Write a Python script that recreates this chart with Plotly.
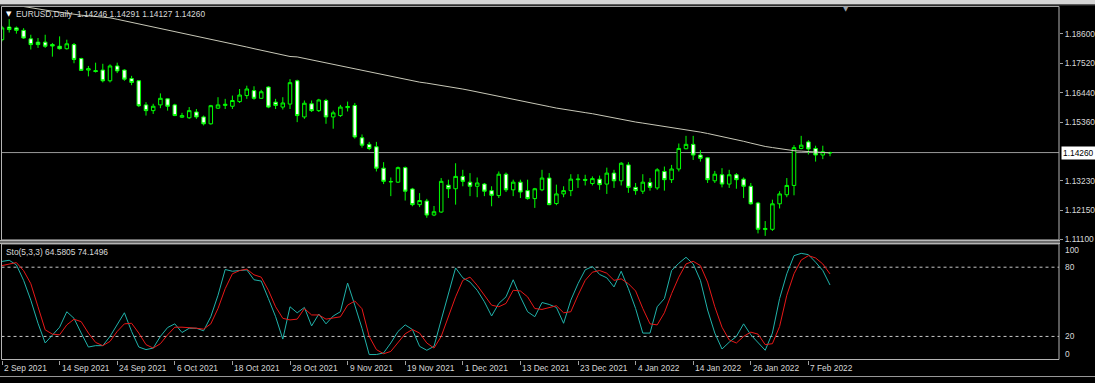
import plotly.graph_objects as go

W, H = 1095, 383
def X(px): return px / W
def Y(py): return 1 - py / H

# ---------------- categories (trading days) ----------------
month_days = [
    ("2021-09", [2,3,6,7,8,9,10,13,14,15,16,17,20,21,22,23,24,27,28,29,30]),
    ("2021-10", [1,4,5,6,7,8,11,12,13,14,15,18,19,20,21,22,25,26,27,28,29]),
    ("2021-11", [1,2,3,4,5,8,9,10,11,12,15,16,17,18,19,22,23,24,25,26,29,30]),
    ("2021-12", [1,2,3,6,7,8,9,10,13,14,15,16,17,20,21,22,23,24,27,28,29,30,31]),
    ("2022-01", [3,4,5,6,7,10,11,12,13,14,17,18,19,20,21,24,25,26,27,28,31]),
    ("2022-02", [1,2,3,4,7,8,9,10]),
]
dates = [f"{m}-{d:02d}" for m, days in month_days for d in days]

# ---------------- OHLC ----------------
open_ = [1.1838,1.1884,1.1881,1.1872,1.1841,1.1829,1.1829,1.1820,1.1814,1.1805,
         1.1820,1.1769,1.1727,1.1725,1.1727,1.1688,1.1742,1.1727,1.1696,1.1688,
         1.1600,1.1579,1.1600,1.1622,1.1600,1.1555,1.1553,1.1574,1.1556,1.1531,
         1.1588,1.1598,1.1595,1.1612,1.1634,1.1652,1.1624,1.1665,1.1610,1.1592,
         1.1603,1.1688,1.1556,1.1604,1.1579,1.1616,1.1556,1.1561,1.1590,1.1598,
         1.1480,1.1456,1.1447,1.1369,1.1319,1.1318,1.1371,1.1293,1.1236,1.1249,
         1.1198,1.1209,1.1307,1.1294,1.1339,1.1318,1.1303,1.1311,1.1287,1.1269,
         1.1347,1.1290,1.1318,1.1287,1.1258,1.1290,1.1333,1.1240,1.1275,1.1287,
         1.1327,1.1328,1.1313,1.1329,1.1311,1.1351,1.1323,1.1381,1.1299,1.1285,
         1.1317,1.1297,1.1357,1.1327,1.1366,1.1440,1.1456,1.1417,1.1407,1.1323,
         1.1345,1.1311,1.1345,1.1329,1.1303,1.1242,1.1145,1.1146,1.1239,1.1272,
         1.1306,1.1441,1.1465,1.1441,1.1417,1.14246]
high = [1.1888,1.1913,1.1886,1.1880,1.1856,1.1844,1.1856,1.1826,1.1850,1.1838,
        1.1826,1.1772,1.1742,1.1754,1.1750,1.1748,1.1754,1.1730,1.1706,1.1690,
        1.1610,1.1604,1.1642,1.1624,1.1604,1.1571,1.1592,1.1585,1.1561,1.1600,
        1.1628,1.1622,1.1634,1.1658,1.1670,1.1668,1.1655,1.1668,1.1622,1.1628,
        1.1694,1.1692,1.1616,1.1616,1.1622,1.1622,1.1579,1.1600,1.1612,1.1607,
        1.1492,1.1465,1.1465,1.1391,1.1335,1.1375,1.1375,1.1297,1.1278,1.1257,
        1.1231,1.1333,1.1327,1.1387,1.1363,1.1351,1.1335,1.1315,1.1303,1.1357,
        1.1353,1.1327,1.1327,1.1327,1.1297,1.1363,1.1351,1.1309,1.1303,1.1347,
        1.1347,1.1345,1.1339,1.1342,1.1371,1.1363,1.1391,1.1391,1.1315,1.1347,
        1.1333,1.1369,1.1375,1.1381,1.1459,1.1487,1.1487,1.1435,1.1410,1.1359,
        1.1369,1.1363,1.1351,1.1335,1.1315,1.1246,1.1176,1.1254,1.1285,1.1333,
        1.1453,1.1487,1.1471,1.1451,1.1451,1.14291]
low = [1.1832,1.1864,1.1860,1.1841,1.1802,1.1808,1.1808,1.1776,1.1802,1.1802,
       1.1752,1.1724,1.1704,1.1718,1.1682,1.1682,1.1716,1.1688,1.1672,1.1592,
       1.1561,1.1567,1.1588,1.1579,1.1559,1.1552,1.1549,1.1549,1.1525,1.1528,
       1.1585,1.1585,1.1585,1.1607,1.1622,1.1619,1.1622,1.1588,1.1585,1.1583,
       1.1585,1.1537,1.1549,1.1574,1.1574,1.1531,1.1513,1.1556,1.1576,1.1477,
       1.1444,1.1435,1.1357,1.1311,1.1267,1.1315,1.1251,1.1230,1.1227,1.1188,
       1.1194,1.1206,1.1260,1.1236,1.1303,1.1267,1.1263,1.1267,1.1230,1.1260,
       1.1282,1.1267,1.1260,1.1254,1.1224,1.1285,1.1234,1.1234,1.1263,1.1267,
       1.1297,1.1306,1.1306,1.1290,1.1275,1.1297,1.1306,1.1279,1.1272,1.1275,
       1.1287,1.1290,1.1287,1.1315,1.1357,1.1438,1.1399,1.1393,1.1315,1.1315,
       1.1299,1.1297,1.1294,1.1260,1.1236,1.1131,1.1122,1.1140,1.1222,1.1263,
       1.1270,1.1438,1.1419,1.1393,1.1402,1.14127]
close = [1.1881,1.1875,1.1872,1.1844,1.1820,1.1820,1.1814,1.1815,1.1805,1.1823,
         1.1766,1.1726,1.1732,1.1722,1.1688,1.1742,1.1724,1.1694,1.1682,1.1597,
         1.1579,1.1595,1.1624,1.1595,1.1561,1.1561,1.1579,1.1556,1.1531,1.1597,
         1.1600,1.1602,1.1616,1.1636,1.1658,1.1624,1.1648,1.1592,1.1598,1.1607,
         1.1681,1.1561,1.1606,1.1579,1.1618,1.1556,1.1571,1.1592,1.1594,1.1483,
         1.1453,1.1441,1.1369,1.1321,1.1320,1.1371,1.1285,1.1236,1.1251,1.1198,
         1.1210,1.1321,1.1294,1.1339,1.1321,1.1303,1.1315,1.1285,1.1270,1.1347,
         1.1290,1.1318,1.1282,1.1258,1.1294,1.1333,1.1236,1.1275,1.1287,1.1329,
         1.1329,1.1325,1.1331,1.1309,1.1351,1.1323,1.1387,1.1299,1.1287,1.1318,
         1.1299,1.1363,1.1327,1.1366,1.1441,1.1456,1.1417,1.1405,1.1327,1.1347,
         1.1311,1.1345,1.1327,1.1303,1.1239,1.1146,1.1149,1.1239,1.1275,1.1306,
         1.1444,1.1453,1.1439,1.1417,1.1429,1.14260]

# moving average line
ma = [1.19720,1.19673,1.19626,1.19579,1.19535,1.19496,1.19460,1.19420,1.19380,1.19340,
      1.19301,1.19272,1.19250,1.19225,1.19203,1.19178,1.19124,1.19069,1.19012,1.18958,
      1.18903,1.18849,1.18795,1.18737,1.18683,1.18629,1.18575,1.18521,1.18463,1.18405,
      1.18344,1.18286,1.18228,1.18170,1.18112,1.18051,1.17993,1.17936,1.17878,1.17820,
      1.17766,1.17751,1.17697,1.17639,1.17585,1.17527,1.17473,1.17419,1.17361,1.17307,
      1.17249,1.17195,1.17141,1.17083,1.17029,1.16971,1.16917,1.16863,1.16830,1.16794,
      1.16755,1.16715,1.16675,1.16632,1.16578,1.16527,1.16476,1.16422,1.16372,1.16318,
      1.16267,1.16216,1.16159,1.16105,1.16047,1.15993,1.15938,1.15884,1.15837,1.15798,
      1.15761,1.15718,1.15678,1.15624,1.15574,1.15519,1.15465,1.15415,1.15375,1.15335,
      1.15296,1.15256,1.15216,1.15176,1.15137,1.15097,1.15061,1.15007,1.14956,1.14902,
      1.14851,1.14801,1.14739,1.14671,1.14606,1.14537,1.14483,1.14443,1.14400,1.14357,
      1.14328,1.14313,1.14295,1.14281,1.14263,1.14248]

# stochastic %K and %D
sto_k = [85,86,82,68.6,51.4,31.4,14.3,21.4,28,41.4,
         35.7,22.9,10.8,12,12,20,30,40.5,24.3,10.8,
         8.6,9.9,20,27.7,30.9,23.4,27.1,27.1,24.9,37.1,
         55.7,78,76.5,77.1,77.7,69.1,68,52.8,37.1,17.7,
         45.7,40.5,45.1,29.1,39.4,30.9,37.7,41.4,66.3,47.1,
         27,4.3,4.3,5.7,14.3,24.3,30,26,11.4,8,
         11.4,34.3,57.1,79.4,70.8,67.1,60,50,37.7,48.6,
         54.3,69.1,54.3,41.4,37.1,49.4,47.7,45.1,31.4,51.4,
         65.7,77.7,80.6,73.7,70.8,62.9,76.5,61.4,44.2,22.9,
         22.9,45.7,52.8,77.1,83.4,88.6,82.8,68.6,42.9,22.9,
         9.1,15,20,30.9,21.4,14.3,8,22.9,52.8,74.3,
         90,92,90.9,84.3,77.1,64.5805]
sto_d = [81.4,82.8,84,77,65.7,45.7,25.7,22,21.4,30,
         34.9,32.8,22.9,14.8,12,15.7,24.3,30.9,31.4,22.9,
         12.9,9.9,13.7,21.4,28,28,27.7,27.1,26.3,30.9,
         44.2,61.4,74.3,77.1,78.3,73.4,71.4,60,45.7,35.7,
         34.3,35,44.2,38.6,38.6,35,36,37,47.1,50.7,
         44,20,8.6,5,7,14.8,22.3,26,22.9,14.3,
         9.9,20,37.1,54.3,68.6,71.4,64.3,55.7,47.1,45.7,
         48.6,60,59.4,54.3,44.2,43.4,45,46.6,40.5,41.4,
         55.7,68.6,75.7,77.1,74.8,68.6,69.9,65.7,59.4,44.2,
         30.9,30,40.5,57.1,71.4,82.8,85.1,81.4,67.1,45.7,
         28,17,14.3,20,23.7,22,12.9,13.7,28.6,55.7,
         74.3,86.2,90,88,82.8,74.1496]

# axis labels
date_ticks = ["2021-09-02","2021-09-14","2021-09-24","2021-10-06","2021-10-18","2021-10-28",
              "2021-11-09","2021-11-19","2021-12-01","2021-12-13","2021-12-23","2022-01-04",
              "2022-01-14","2022-01-26","2022-02-07"]
date_labels = ["2 Sep 2021","14 Sep 2021","24 Sep 2021","6 Oct 2021","18 Oct 2021","28 Oct 2021",
               "9 Nov 2021","19 Nov 2021","1 Dec 2021","13 Dec 2021","23 Dec 2021","4 Jan 2022",
               "14 Jan 2022","26 Jan 2022","7 Feb 2022"]
price_ticks = [1.18600, 1.17520, 1.16440, 1.15360, 1.13230, 1.12150, 1.11100]
sto_levels = [80, 20]
sto_ticks = [100, 80, 20, 0]
bid_price = 1.14260

# ---------------- geometry ----------------
PX_PER_BAR = 7.2
X_LEFT, X_RIGHT = 1, 1059
r0 = -(2 - X_LEFT) / PX_PER_BAR
r1 = r0 + (X_RIGHT - X_LEFT) / PX_PER_BAR
MAIN_TOP, MAIN_BOT = 7, 243
STO_TOP, STO_BOT = 246.5, 363.3
P_SCALE = 2769.0   # px per price unit
P_REF, P_REF_Y = 1.186, 34
main_range = [P_REF - (MAIN_BOT - P_REF_Y) / P_SCALE, P_REF + (P_REF_Y - MAIN_TOP) / P_SCALE]
sto_px_per_unit = (363.3 - 246.7) / 100
sto_range = [0, 100 + (246.7 - STO_TOP) / sto_px_per_unit]

TXT = "#d8d8d8"
FONT = "Liberation Sans"
FS = 8.4
GREEN = "#00ff00"

fig = go.Figure()
fig.add_trace(go.Candlestick(
    x=dates, open=open_, high=high, low=low, close=close,
    increasing=dict(line=dict(color=GREEN, width=1), fillcolor="#000000"),
    decreasing=dict(line=dict(color=GREEN, width=1), fillcolor="#ffffff"),
    whiskerwidth=0, showlegend=False, hoverinfo="skip", xaxis="x", yaxis="y"))
fig.add_trace(go.Scatter(x=dates, y=ma, mode="lines", line=dict(color="#c8c8b8", width=1),
                         showlegend=False, hoverinfo="skip", xaxis="x", yaxis="y"))
fig.add_trace(go.Scatter(x=dates, y=sto_k, mode="lines", line=dict(color="#20b2aa", width=1),
                         showlegend=False, hoverinfo="skip", xaxis="x", yaxis="y2"))
fig.add_trace(go.Scatter(x=dates, y=sto_d, mode="lines", line=dict(color="#e81818", width=1),
                         showlegend=False, hoverinfo="skip", xaxis="x", yaxis="y2"))

shapes = []
GRAY = "#b4b4b4"
# top light strip
shapes.append(dict(type="rect", xref="paper", yref="paper", x0=0, x1=1, y0=Y(4.5), y1=1,
                   fillcolor="#d6d6d6", line=dict(width=0), layer="above"))
shapes.append(dict(type="line", xref="paper", yref="paper", x0=0, x1=1, y0=Y(5), y1=Y(5),
                   line=dict(color="#505050", width=1), layer="above"))
# main pane border
shapes.append(dict(type="rect", xref="paper", yref="paper", x0=X(1.5), x1=X(1059), y0=Y(242.5), y1=Y(6.5),
                   line=dict(color=GRAY, width=1), layer="above"))
# separator band (3d style)
shapes.append(dict(type="rect", xref="paper", yref="paper", x0=0, x1=X(1060), y0=Y(246.5), y1=Y(242.5),
                   fillcolor="#6a6a6a", line=dict(width=0), layer="above"))
shapes.append(dict(type="line", xref="paper", yref="paper", x0=0, x1=X(1060), y0=Y(243), y1=Y(243),
                   line=dict(color="#bdbdbd", width=1), layer="above"))
shapes.append(dict(type="line", xref="paper", yref="paper", x0=0, x1=X(1060), y0=Y(246), y1=Y(246),
                   line=dict(color="#bdbdbd", width=1), layer="above"))
# stochastic pane border
shapes.append(dict(type="rect", xref="paper", yref="paper", x0=X(1.5), x1=X(1059), y0=Y(363.3), y1=Y(246.5),
                   line=dict(color=GRAY, width=1), layer="above"))
# bottom line
shapes.append(dict(type="line", xref="paper", yref="paper", x0=0, x1=1, y0=Y(380.5), y1=Y(380.5),
                   line=dict(color="#9a9a9a", width=1), layer="above"))
# bid line
shapes.append(dict(type="line", xref="paper", yref="y", x0=X(1.5), x1=X(1059), y0=bid_price, y1=bid_price,
                   line=dict(color="#9a9a9a", width=1), layer="below"))
# stochastic levels
for lv in sto_levels:
    shapes.append(dict(type="line", xref="paper", yref="y2", x0=X(1.5), x1=X(1059), y0=lv, y1=lv,
                       line=dict(color="#c8c8c8", width=1, dash="3px,3px"), layer="below"))

ann = []
ann.append(dict(text="▼", x=X(3.5), y=Y(14), xref="paper", yref="paper", xanchor="left", yanchor="middle",
                showarrow=False, font=dict(family="DejaVu Sans", size=7, color="#ffffff")))
ann.append(dict(text="EURUSD,Daily  1.14246 1.14291 1.14127 1.14260", x=X(14), y=Y(14.5), xref="paper",
                yref="paper", xanchor="left", yanchor="middle", showarrow=False,
                font=dict(family=FONT, size=FS, color=TXT)))
ann.append(dict(text="▼", x=X(846), y=Y(9.5), xref="paper", yref="paper", xanchor="center", yanchor="middle",
                showarrow=False, font=dict(family="DejaVu Sans", size=7, color="#9aa0a8")))
ann.append(dict(text="Sto(5,3,3) 64.5805 74.1496", x=X(4), y=Y(254.5), xref="paper", yref="paper",
                xanchor="left", yanchor="middle", showarrow=False, font=dict(family=FONT, size=FS, color=TXT)))
sto_label_y = {100: 252.5, 80: 270, 20: 340, 0: 357.3}
for t in sto_ticks:
    ann.append(dict(text=str(t), x=X(1062.5), y=Y(sto_label_y[t]), xref="paper", yref="paper",
                    xanchor="left", yanchor="middle", showarrow=False, font=dict(family=FONT, size=FS, color=TXT)))
ann.append(dict(text=f"{bid_price:.5f}", x=X(1060.5), y=bid_price, xref="paper", yref="y",
                xanchor="left", yanchor="middle", showarrow=False, bgcolor="#ffffff", borderpad=1,
                font=dict(family=FONT, size=FS, color="#000000")))
for d, lab in zip(date_ticks, date_labels):
    ann.append(dict(text=lab, x=d, y=Y(371.7), xref="x", yref="paper", xanchor="left", yanchor="middle",
                    xshift=0, showarrow=False, font=dict(family=FONT, size=FS, color=TXT)))

fig.update_layout(
    width=W, height=H, autosize=False,
    margin=dict(l=0, r=0, t=0, b=0, pad=0),
    paper_bgcolor="#000000", plot_bgcolor="#000000",
    showlegend=False, shapes=shapes, annotations=ann,
    xaxis=dict(domain=[X(X_LEFT), X(X_RIGHT)], anchor="y2", type="category", range=[r0, r1],
               showgrid=False, zeroline=False, showline=False, rangeslider=dict(visible=False),
               tickmode="array", tickvals=date_ticks, ticktext=[""] * len(date_ticks),
               ticks="outside", ticklen=4, tickcolor="#a0a0a0", tickwidth=1, showticklabels=False),
    yaxis=dict(domain=[Y(MAIN_BOT), Y(MAIN_TOP)], anchor="x", range=main_range, side="right",
               showgrid=False, zeroline=False, showline=False,
               tickmode="array", tickvals=price_ticks, ticktext=[f"{v:.5f}" for v in price_ticks],
               ticks="outside", ticklen=3, tickcolor="#a0a0a0",
               tickfont=dict(family=FONT, size=FS, color=TXT)),
    yaxis2=dict(domain=[Y(STO_BOT), Y(STO_TOP)], anchor="x", range=sto_range, side="right",
                showgrid=False, zeroline=False, showline=False, showticklabels=False, ticks=""),
)

fig.write_html("out.html")
